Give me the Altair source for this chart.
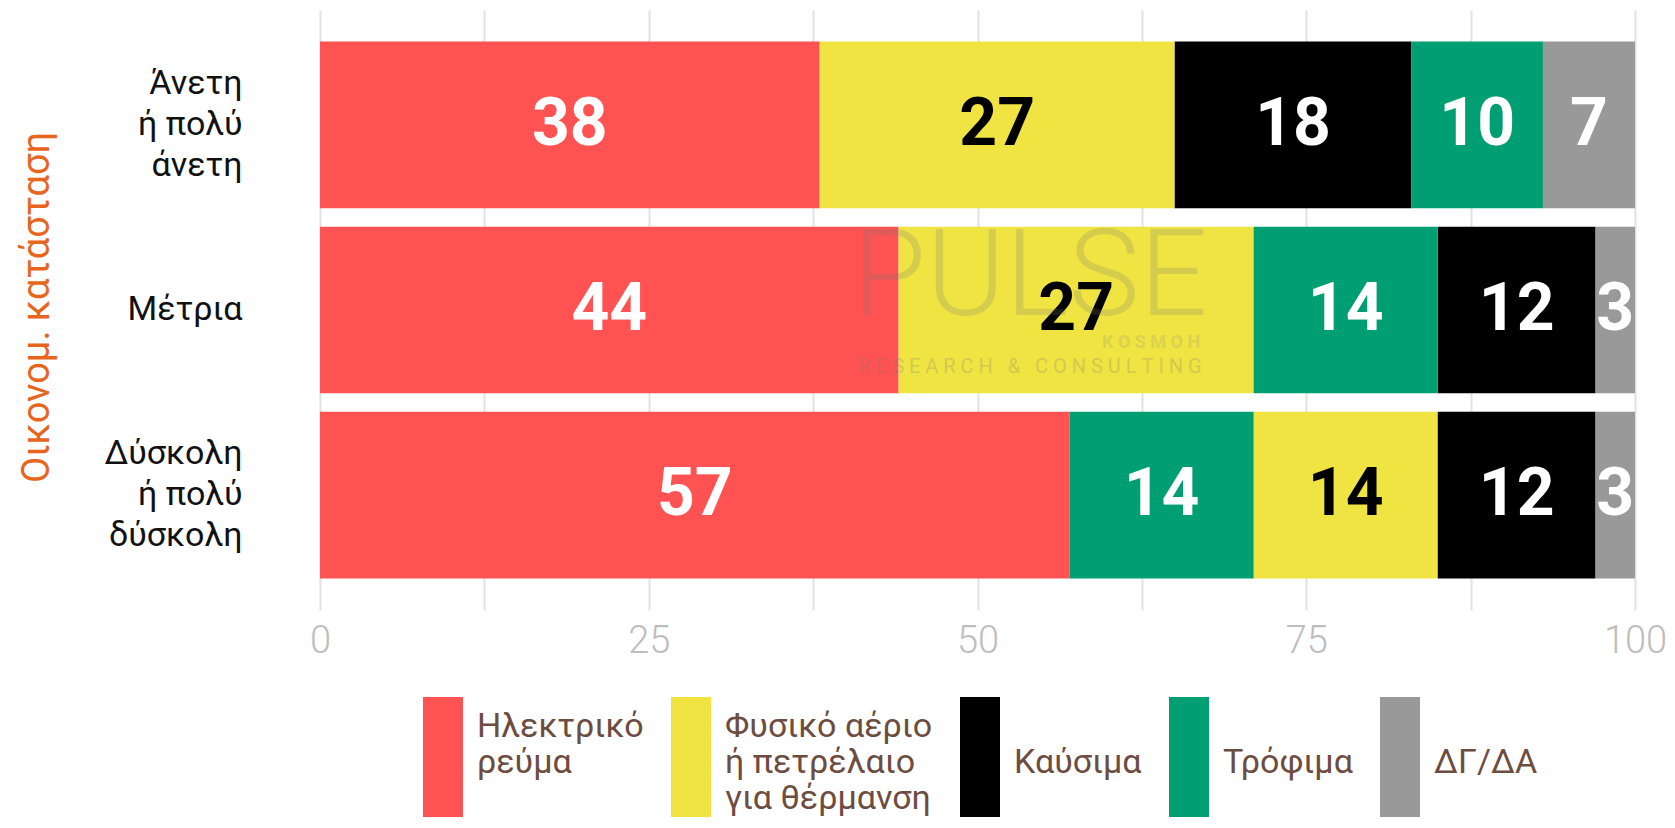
import altair as alt
import pandas as pd

categories = ["Άνετη\nή πολύ\nάνετη", "Μέτρια", "Δύσκολη\nή πολύ\nδύσκολη"]
items = ["Ηλεκτρικό\nρεύμα", "Φυσικό αέριο\nή πετρέλαιο\nγια θέρμανση", "Καύσιμα", "Τρόφιμα", "ΔΓ/ΔΑ"]
colors = ["#FF5252", "#F0E442", "#000000", "#009E73", "#999999"]

electricity = [38, 44, 57]
gas_oil = [27, 27, 14]
fuel = [18, 12, 12]
food = [10, 14, 14]
dkna = [7, 3, 3]
series = [electricity, gas_oil, fuel, food, dkna]

# position of each item within each row (bars sorted by size)
order_electricity = [0, 0, 0]
order_gas_oil = [1, 1, 2]
order_fuel = [2, 3, 3]
order_food = [3, 2, 1]
order_dkna = [4, 4, 4]
orders = [order_electricity, order_gas_oil, order_fuel, order_food, order_dkna]

x_ticks = [0, 12.5, 25, 37.5, 50, 62.5, 75, 87.5, 100]

watermark_main = "PULSE"
watermark_sub = "\u00a0".join("RESEARCH & CONSULTING")
watermark_tag = "\u00a0".join("KOSMOH")

rows = []
for item, vals, ords in zip(items, series, orders):
    for cat, v, o in zip(categories, vals, ords):
        rows.append({"cat": cat, "item": item, "value": v, "order": o})
df = pd.DataFrame(rows)

y_enc = alt.Y(
    "cat:N",
    sort=categories,
    scale=alt.Scale(paddingInner=0.1, paddingOuter=0.17),
    axis=alt.Axis(
        title="Οικονομ. κατάσταση",
        labelExpr="length(split(datum.label, '\\n')) == 1 ? ['', datum.label] : split(datum.label, '\\n')",
        labelFont="Roboto",
        labelFontSize=34,
        labelLineHeight=41,
        labelOffset=-41,
        labelColor="#111111",
        labelPadding=78,
        labelAlign="right",
        labelBaseline="middle",
        ticks=False,
        domain=False,
        grid=False,
        titleFont="Roboto",
        titleFontSize=38,
        titleFontWeight="normal",
        titleColor="#E8651E",
        titleAngle=270,
        titleX=-283,
        titleY=297,
        titleAlign="center",
        titleBaseline="middle",
    ),
)

base = alt.Chart(df).transform_stack(
    stack="value", groupby=["cat"], as_=["x0", "x1"],
    sort=[alt.SortField("order", order="ascending")],
).transform_calculate(mid="(datum.x0 + datum.x1) / 2")

bars = base.mark_bar().encode(
    x=alt.X(
        "x0:Q",
        scale=alt.Scale(domain=[0, 100], nice=False, zero=True),
        axis=alt.Axis(
            title=None,
            values=x_ticks,
            labelExpr="datum.value % 25 == 0 ? datum.label : ''",
            labelOverlap=False,
            labelFlush=False,
            grid=True,
            gridColor="#e2e2e2",
            gridWidth=2,
            domain=False,
            ticks=False,
            labelFont="Roboto",
            labelFontSize=38,
            labelFontWeight=300,
            labelColor="#bdbdbd",
            labelPadding=12,
        ),
    ),
    x2="x1:Q",
    y=y_enc,
    color=alt.Color(
        "item:N",
        scale=alt.Scale(domain=items, range=colors),
        legend=alt.Legend(
            title=None,
            orient="none",
            legendX=103,
            legendY=697,
            direction="horizontal",
            columns=5,
            symbolType="M-1,-1.5H1V4.5H-1Z",
            symbolSize=1600,
            symbolStrokeWidth=0,
            symbolOpacity=1,
            labelExpr="length(split(datum.label, '\\n')) == 1 ? ['', datum.label] : split(datum.label, '\\n')",
            labelFont="Roboto",
            labelFontSize=34,
            labelColor="#6d4c41",
            labelOffset=14,
            labelLimit=400,
            columnPadding=27,
            padding=0,
        ),
    ),
)

text = base.mark_text(font="Roboto", fontSize=66, fontWeight="bold", baseline="middle").encode(
    x=alt.X("mid:Q"),
    y=alt.Y("cat:N", sort=categories),
    text=alt.Text("value:Q"),
    color=alt.condition(alt.datum.item == items[1], alt.value("#000000"), alt.value("#ffffff")),
)

wm_main = alt.Chart(pd.DataFrame({"t": [watermark_main]})).mark_text(
    font="Roboto", fontSize=120, fontWeight=300, color="#7a7a7a", opacity=0.22, baseline="middle"
).encode(x=alt.datum(54), y=alt.datum(categories[1]), text="t:N", yOffset=alt.value(52))

wm_sub = alt.Chart(pd.DataFrame({"t": [watermark_sub]})).mark_text(
    font="Roboto", fontSize=20, color="#7a7a7a", opacity=0.25, baseline="middle"
).encode(x=alt.datum(54), y=alt.datum(categories[1]), text="t:N", yOffset=alt.value(140))

wm_tag = alt.Chart(pd.DataFrame({"t": [watermark_tag]})).mark_text(
    font="Roboto", fontSize=18, fontWeight="bold", color="#8a8a8a", opacity=0.2, baseline="middle"
).encode(x=alt.datum(63.2), y=alt.datum(categories[1]), text="t:N", yOffset=alt.value(116))

chart = alt.layer(bars, text, wm_main, wm_sub, wm_tag).properties(
    width=1315,
    height=600,
    autosize=alt.AutoSizeParams(type="none"),
    padding={"left": 312, "top": 2, "right": 32, "bottom": 210},
).configure_view(stroke=None)

chart.save("out.html", embed_options={"renderer": "svg", "actions": False})
